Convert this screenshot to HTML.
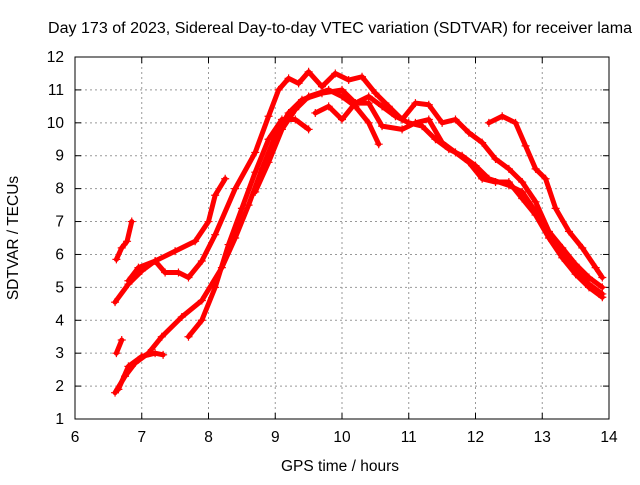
<!DOCTYPE html>
<html><head><meta charset="utf-8"><style>
body{margin:0;background:#fff;font-family:"Liberation Sans",sans-serif}
svg text{font-family:"Liberation Sans",sans-serif;font-size:15.5px;fill:#000}
</style></head><body>
<svg id="chart" width="640" height="480">
<rect width="640" height="480" fill="#fff"/>
<text x="340" y="33" text-anchor="middle" textLength="584" lengthAdjust="spacingAndGlyphs">Day 173 of 2023, Sidereal Day-to-day VTEC variation (SDTVAR) for receiver lama</text>
<text x="340" y="471" text-anchor="middle">GPS time / hours</text>
<text transform="translate(18,238) rotate(-90)" text-anchor="middle">SDTVAR / TECUs</text>
<g id="grid"></g><g id="ticks"></g><g id="series"></g>
<rect x="75" y="57" width="534" height="362" fill="none" stroke="#000" stroke-width="1"/>
</svg>
<script>
const xTicks=[6,7,8,9,10,11,12,13,14];
const yTicks=[1,2,3,4,5,6,7,8,9,10,11,12];
const s1=[[6.6,4.55],[6.8,5.1],[7.0,5.5],[7.2,5.8],[7.35,5.45],[7.55,5.45],[7.7,5.3],[7.9,5.8],[8.1,6.6],[8.4,8.0],[8.7,9.1],[8.9,10.2],[9.05,11.0],[9.2,11.35],[9.35,11.2],[9.5,11.55],[9.7,11.1],[9.9,11.5],[10.1,11.3],[10.3,11.4],[10.5,10.9],[10.7,10.5],[10.9,10.1],[11.1,10.6],[11.3,10.55],[11.5,10.0],[11.7,10.1],[11.9,9.7],[12.1,9.4],[12.3,8.9],[12.5,8.6],[12.7,8.2],[12.9,7.6],[13.1,6.7],[13.3,6.2],[13.5,5.7],[13.7,5.3],[13.9,5.0]];
const s2=[[6.8,5.2],[6.95,5.6],[7.2,5.8],[7.5,6.1],[7.8,6.4],[8.0,7.0],[8.1,7.8],[8.25,8.3]];
const s3=[[6.6,1.8],[6.75,2.3],[6.9,2.7],[7.1,3.0],[7.3,3.5],[7.6,4.1],[7.9,4.6],[8.2,5.6],[8.4,6.5],[8.6,7.5],[8.8,8.6],[9.0,9.6],[9.2,10.3],[9.4,10.7],[9.7,10.9],[10.0,11.0],[10.2,10.6],[10.4,10.8],[10.6,10.5],[10.8,10.2],[11.0,10.0],[11.2,9.9],[11.4,9.5],[11.6,9.2],[11.8,9.0],[12.0,8.7],[12.2,8.3],[12.5,8.1],[12.7,7.9],[12.9,7.3],[13.1,6.6],[13.3,6.0],[13.5,5.5],[13.7,5.1],[13.9,4.8]];
const s4=[[6.65,1.9],[6.8,2.6],[7.0,2.9],[7.2,3.0],[7.32,2.95]];
const s5=[[6.62,3.0],[6.7,3.4]];
const s6=[[6.62,5.85],[6.7,6.2],[6.78,6.4],[6.85,7.0]];
const s7=[[7.7,3.5],[7.9,4.0],[8.1,5.0],[8.3,6.3],[8.5,7.4],[8.7,8.5],[8.9,9.5],[9.1,10.1],[9.3,10.1],[9.5,9.8]];
const s8=[[8.7,7.9],[8.9,8.8],[9.1,9.8],[9.3,10.4],[9.5,10.8],[9.8,11.0],[10.0,10.8],[10.2,10.5],[10.4,10.0],[10.55,9.35]];
const s9=[[9.6,10.3],[9.8,10.5],[10.0,10.1],[10.2,10.6],[10.4,10.6],[10.6,9.9],[10.9,9.8],[11.1,10.0],[11.3,10.1],[11.5,9.4],[11.7,9.1],[11.9,8.8],[12.1,8.3],[12.3,8.2],[12.5,8.2],[12.7,7.7],[12.9,7.2],[13.1,6.5],[13.3,5.9],[13.5,5.4],[13.7,5.0],[13.9,4.7]];
const s10=[[12.2,10.0],[12.4,10.2],[12.6,10.0],[12.75,9.3],[12.9,8.6],[13.05,8.3],[13.2,7.4],[13.4,6.7],[13.6,6.2],[13.8,5.6],[13.9,5.3]];
const allSeries=[s1,s2,s3,s4,s5,s6,s7,s8,s9,s10];
const NS="http://www.w3.org/2000/svg";
const X=t=>75+(t-6)*66.75;
const Y=v=>57+(12-v)*(362/11);
const grid=document.getElementById('grid'),ticks=document.getElementById('ticks'),ser=document.getElementById('series');
function mk(tag,attrs,parent){const e=document.createElementNS(NS,tag);for(const k in attrs)e.setAttribute(k,attrs[k]);parent.appendChild(e);return e;}
xTicks.forEach(t=>{
 if(t>6&&t<14){const g=mk('line',{x1:X(t),x2:X(t),y1:57,y2:419,stroke:'#999','stroke-dasharray':'2,3'},grid);
 
 }
 const l=mk('text',{x:X(t),y:442,'text-anchor':'middle'},ticks);l.textContent=t;
 
 
 mk('line',{x1:X(t),x2:X(t),y1:419,y2:413,stroke:'#000'},ticks);
 mk('line',{x1:X(t),x2:X(t),y1:57,y2:63,stroke:'#000'},ticks);
});
yTicks.forEach(v=>{
 if(v>1&&v<12){const g=mk('line',{x1:75,x2:609,y1:Y(v),y2:Y(v),stroke:'#999','stroke-dasharray':'2,3'},grid);
 
 }
 const l=mk('text',{x:64,y:Y(v)+5,'text-anchor':'end'},ticks);l.textContent=v;
 
 
 mk('line',{x1:75,x2:81,y1:Y(v),y2:Y(v),stroke:'#000'},ticks);
 mk('line',{x1:609,x2:603,y1:Y(v),y2:Y(v),stroke:'#000'},ticks);
});
allSeries.forEach((s,i)=>{
 const p=mk('polyline',{points:s.map(d=>X(d[0])+','+Y(d[1])).join(' '),fill:'none',stroke:'#f00','stroke-width':5,'stroke-linejoin':'round','stroke-linecap':'round'},ser);
 
 
 s.forEach(d=>{const x=X(d[0]),y=Y(d[1]);
  const m=mk('path',{d:`M${x-4},${y}H${x+4}M${x},${y-4}V${y+4}`,stroke:'#f00','stroke-width':1.2},ser);
  
  });
});
</script>
</body></html>
